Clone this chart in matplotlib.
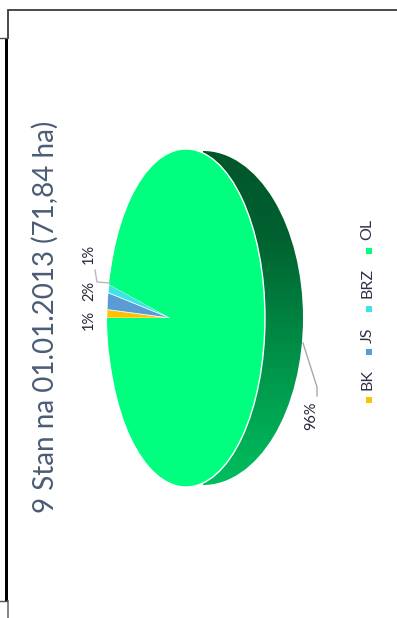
import numpy as np
import matplotlib
matplotlib.use("Agg")
import matplotlib.pyplot as plt
from matplotlib.colors import LinearSegmentedColormap
from matplotlib.patches import Ellipse, Rectangle

TITLE = "9 Stan na 01.01.2013 (71,84 ha)"
categories = ["BK", "JS", "BRZ", "OL"]
shares = [1, 2, 1, 96]
colors = ["#FFC000", "#5B9BD5", "#3FE3E6", "#00FF7F"]

W, H = 397, 618
plt.rcParams["font.family"] = ["Lato", "DejaVu Sans"]
fig = plt.figure(figsize=(W / 100, H / 100), dpi=100, facecolor="white")

# Pie axes: unit coordinates of the face ellipse cover the whole figure
CX, CY, RX, RY = 186, 318, 79, 169
ax = fig.add_axes([0, 0, 1, 1])
xlim = (-CX / RX, (W - CX) / RX)
ylim = ((CY - H) / RY, CY / RY)

# Side wall of the disc with a vertical shading, darkest at the top
side_cmap = LinearSegmentedColormap.from_list(
    "side", [(0, "#00562A"), (0.25, "#00602F"), (0.6, "#008F47"), (1, "#00BF5F")])
side_c = (203 - CX) / RX
side = Ellipse((side_c, 0), 200 / RX, 334 / RY, fc="none", ec="none")
ax.add_patch(side)
grad = ax.imshow(np.linspace(0, 1, 256).reshape(-1, 1), cmap=side_cmap,
                 extent=(side_c, (303 - CX) / RX, -1, 1), aspect="auto", zorder=1)
grad.set_clip_path(side)

# Face of the disc, with the slices fanning out from an off-centre apex
ax.add_patch(Ellipse((0, 0), 2, 2, fc=colors[-1], ec="white", lw=1.0, zorder=2))
wedges, _ = ax.pie(shares, colors=colors, startangle=180, counterclock=False,
                   center=(-0.2, 0), radius=0.8, frame=True,
                   wedgeprops=dict(ec="white", lw=0.5, zorder=3))
wedges[-1].set_edgecolor("none")
ax.set_aspect("auto")
ax.set_xlim(xlim)
ax.set_ylim(ylim)
ax.axis("off")

# Overlay in pixel units for frame, labels, leaders and legend
ov = fig.add_axes([0, 0, 1, 1], facecolor="none")
ov.set_xlim(0, W)
ov.set_ylim(H, 0)
ov.axis("off")

ov.plot([8, 8, W], [38, 10, 10], color="#3A3A3A", lw=1.3, solid_joinstyle="miter")
ov.plot([8, 8], [601, H], color="#707070", lw=1.2)
ov.plot([0, 7], [38, 38], color="#505050", lw=1.0)
ov.plot([0, 7], [601, 601], color="#505050", lw=1.0)
ov.add_patch(Rectangle((4.6, 38), 3.2, 563, fc="black", ec="none"))

ov.text(45, 316.5, TITLE, rotation=90, ha="center", va="center",
        fontsize=20, color="#4A5C74")

# Value labels
label_pos = [(89, 320), (89, 291), (89, 254), (311, 416)]
for share, (x, y) in zip(shares, label_pos):
    ov.text(x, y, f"{share}%", rotation=90, ha="center", va="center",
            fontsize=10.5, color="#26263A")

# Leader lines
ov.plot([110, 97, 95], [283, 282, 270], color="#B8B8B8", lw=1.0)
ov.plot([303, 317, 317], [343, 387, 396], color="#A8A8A8", lw=1.0)

# Legend
marker_y = [400, 352, 309, 251]
text_y = [380, 335, 283, 229]
for name, color, my, ty in zip(categories, colors, marker_y, text_y):
    ov.add_patch(Rectangle((365.5, my - 3), 6, 6, fc=color, ec="none"))
    ov.text(367.5, ty, name, rotation=90, ha="center", va="center",
            fontsize=11.5, color="#30304A")

fig.savefig("out.png", dpi=100, facecolor="white")
